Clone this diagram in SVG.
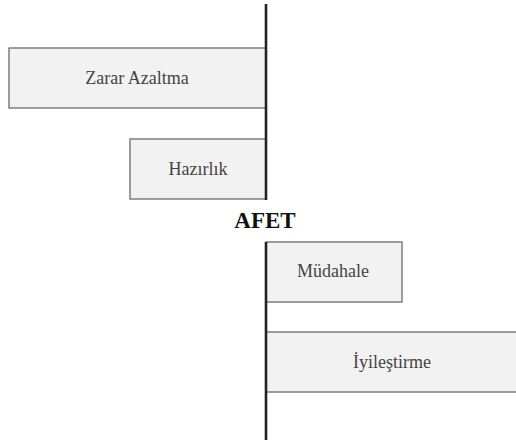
<svg xmlns="http://www.w3.org/2000/svg" width="516" height="446" viewBox="0 0 516 446">
<style>
.box{fill:#f2f2f2;stroke:#6a6a6a;stroke-width:1.3}
.lbl{font-family:"Liberation Serif","DejaVu Serif",serif;font-size:18px;fill:#444;text-anchor:middle}
.axis{stroke:#222;stroke-width:2.6;fill:none}
.title{font-family:"Liberation Serif","DejaVu Serif",serif;font-size:23px;font-weight:bold;fill:#111;text-anchor:middle}
</style>
<rect width="516" height="446" fill="#fff"/>
<g id="zarar"><rect class="box" x="9" y="48" width="257" height="60"/><text class="lbl" x="137" y="84">Zarar Azaltma</text></g>
<g id="hazirlik"><rect class="box" x="130" y="139" width="136" height="60"/><text class="lbl" x="198" y="175">Hazırlık</text></g>
<g id="afet"><text class="title" x="265" y="228">AFET</text></g>
<g id="mudahale"><rect class="box" x="266" y="242" width="136" height="60"/><text class="lbl" x="333" y="277">Müdahale</text></g>
<g id="iyilestirme"><rect class="box" x="266" y="332" width="256" height="60"/><text class="lbl" x="392" y="368">İyileştirme</text></g>
<g id="connectors"><line class="axis" x1="266" y1="4" x2="266" y2="200"/><line class="axis" x1="266" y1="242" x2="266" y2="440"/></g>
</svg>
